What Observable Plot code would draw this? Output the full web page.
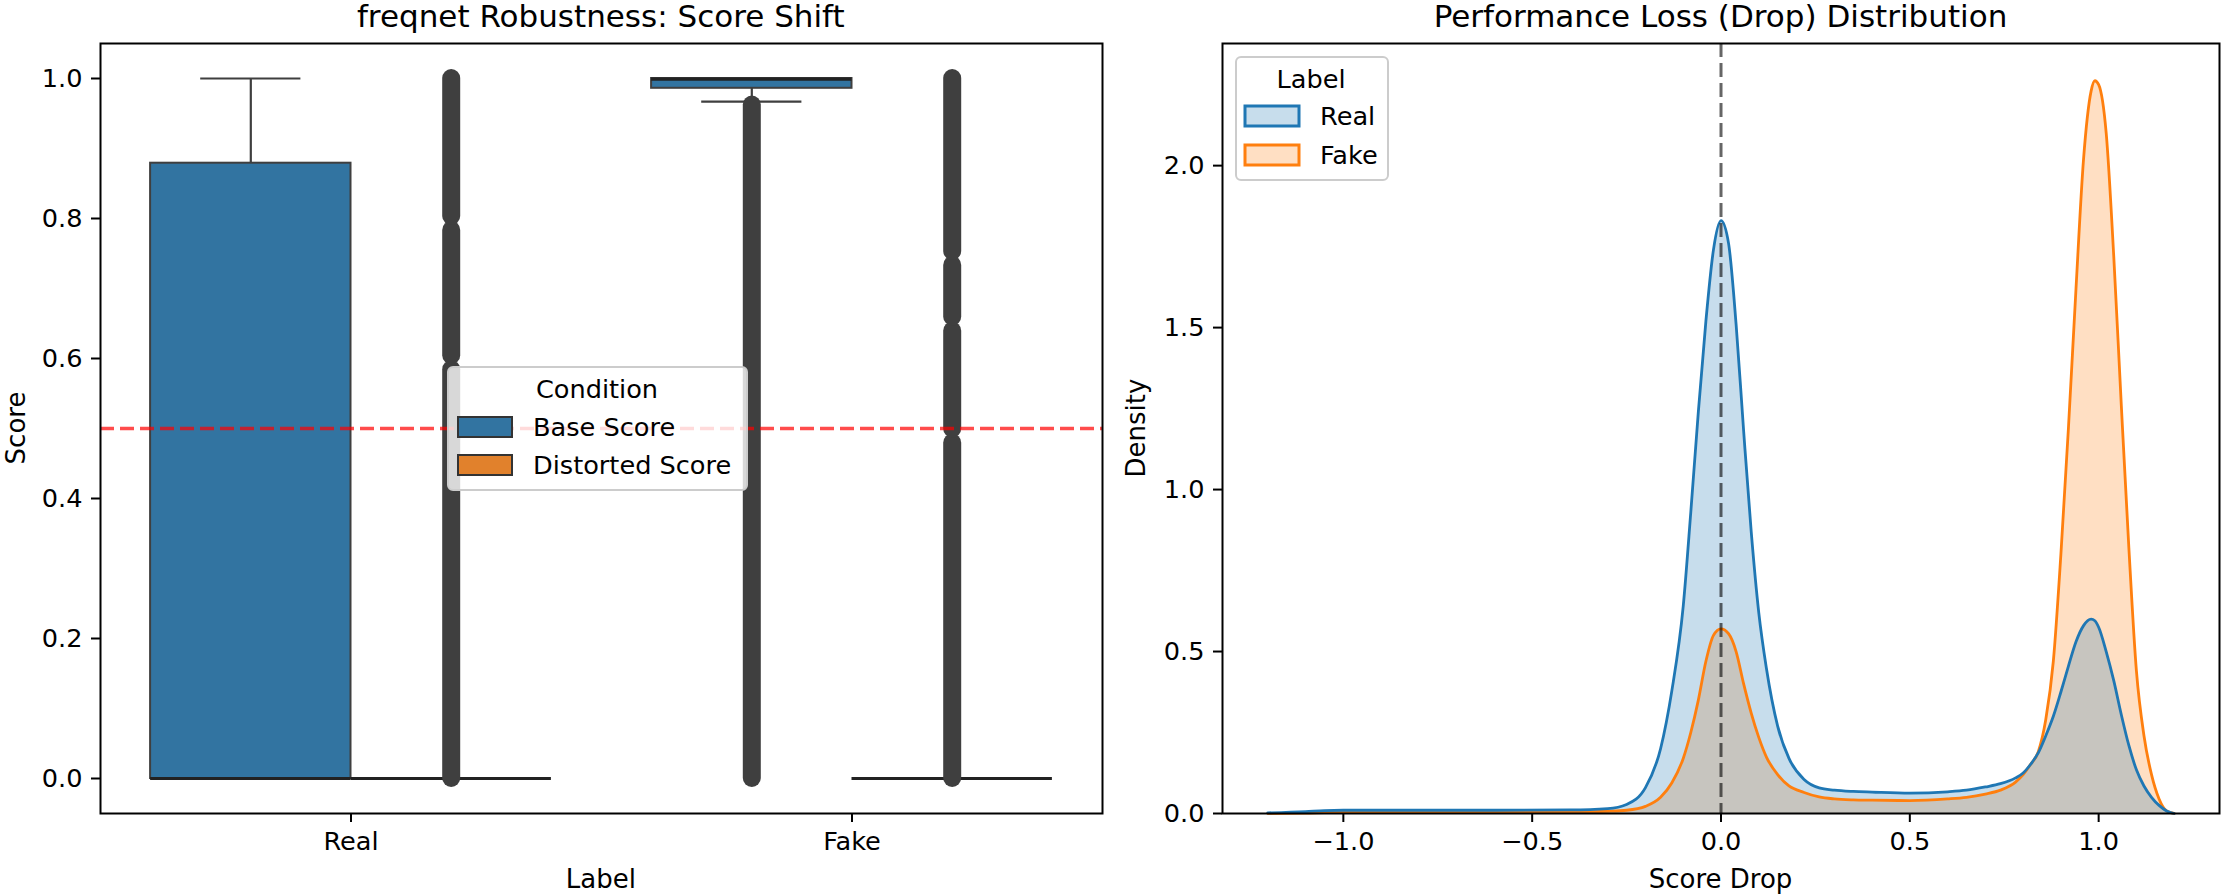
<!DOCTYPE html>
<html><head><meta charset="utf-8">
<script src="https://cdn.jsdelivr.net/npm/d3@7"></script>
<script src="https://cdn.jsdelivr.net/npm/@observablehq/plot@0.6"></script>
<style>
html,body{margin:0;padding:0;background:#fff;}
#wrap{display:flex;width:2223px;height:896px;}
svg{display:block;}
</style></head><body><div id="wrap"></div>
<script>
// ---------- Left panel data (box plot statistics) ----------
const categories = ["Real", "Fake"];
const conditions = ["Base Score", "Distorted Score"];
const conditionColors = ["#3274a1", "#e1812c"];

const baseQ1 = [0.0, 0.986];
const baseMedian = [0.0, 0.999];
const baseQ3 = [0.879, 1.0];
const baseWhiskerLow = [0.0, 0.967];
const baseWhiskerHigh = [1.0, 1.0];
const baseOutlierRuns = [[], [[0.0, 0.962]]];

const distortedQ1 = [0.0, 0.0];
const distortedMedian = [0.0, 0.0];
const distortedQ3 = [0.0, 0.0];
const distortedWhiskerLow = [0.0, 0.0];
const distortedWhiskerHigh = [0.0, 0.0];
const distortedOutlierRuns = [
  [[0.0, 0.584], [0.604, 0.783], [0.803, 1.0]],
  [[0.0, 0.479], [0.499, 0.639], [0.659, 0.733], [0.753, 1.0]]
];
const thresholdLine = [0.5];
const scoreTicks = [0, 0.2, 0.4, 0.6, 0.8, 1.0];

// ---------- Right panel data (KDE curves) ----------
const kdeLabels = ["Real", "Fake"];
const kdeColors = ["#1f77b4", "#ff7f0e"];
const scoreDrop = [-1.2, -1.1, -1.05, -1.0, -0.8, -0.6, -0.4, -0.3, -0.25, -0.2, -0.16, -0.13, -0.1, -0.08, -0.06, -0.04, -0.02, 0, 0.02, 0.04, 0.06, 0.08, 0.1, 0.12, 0.15, 0.18, 0.22, 0.26, 0.3, 0.35, 0.4, 0.5, 0.6, 0.65, 0.7, 0.74, 0.78, 0.8, 0.82, 0.84, 0.86, 0.88, 0.9, 0.92, 0.94, 0.96, 0.98, 0.99, 1.0, 1.02, 1.04, 1.06, 1.08, 1.1, 1.12, 1.14, 1.16, 1.18, 1.2];
const realDensity = [0.002, 0.006, 0.009, 0.010, 0.010, 0.010, 0.011, 0.015, 0.028, 0.08, 0.20, 0.38, 0.64, 0.93, 1.24, 1.52, 1.74, 1.83, 1.76, 1.51, 1.18, 0.87, 0.62, 0.45, 0.27, 0.17, 0.105, 0.079, 0.072, 0.068, 0.066, 0.063, 0.067, 0.072, 0.082, 0.092, 0.110, 0.125, 0.152, 0.187, 0.24, 0.30, 0.375, 0.455, 0.53, 0.58, 0.60, 0.595, 0.575, 0.50, 0.41, 0.305, 0.21, 0.135, 0.085, 0.05, 0.025, 0.008, 0.0];
const fakeDensity = [0.0, 0.001, 0.003, 0.004, 0.004, 0.004, 0.005, 0.007, 0.010, 0.022, 0.05, 0.095, 0.17, 0.25, 0.35, 0.47, 0.55, 0.57, 0.555, 0.50, 0.40, 0.31, 0.235, 0.175, 0.12, 0.085, 0.065, 0.051, 0.045, 0.042, 0.041, 0.040, 0.045, 0.05, 0.06, 0.072, 0.097, 0.12, 0.152, 0.19, 0.29, 0.47, 0.80, 1.19, 1.62, 2.02, 2.23, 2.262, 2.25, 2.10, 1.72, 1.26, 0.82, 0.44, 0.24, 0.12, 0.045, 0.008, 0.0];
const dropTicks = [-1.0, -0.5, 0.0, 0.5, 1.0];
const densityTicks = [0, 0.5, 1.0, 1.5, 2.0];
const referenceDrop = [0];

// ---------- Build tables ----------
const stats = [
  {q1: baseQ1, med: baseMedian, q3: baseQ3, lo: baseWhiskerLow, hi: baseWhiskerHigh, runs: baseOutlierRuns},
  {q1: distortedQ1, med: distortedMedian, q3: distortedQ3, lo: distortedWhiskerLow, hi: distortedWhiskerHigh, runs: distortedOutlierRuns}
];
const boxRows = [];
categories.forEach((cat, i) => conditions.forEach((cond, j) => {
  const s = stats[j];
  boxRows.push({cat, cond, pos: i + (j === 0 ? -0.2 : 0.2),
    q1: s.q1[i], med: s.med[i], q3: s.q3[i], lo: s.lo[i], hi: s.hi[i],
    runs: s.runs[i], color: conditionColors[j]});
}));
const outlierRows = boxRows.flatMap(d => d.runs.map(([a, b]) => ({pos: d.pos, a, b})));
const kdeRows = kdeLabels.map((label, k) => scoreDrop.map((x, n) => ({label, x, d: (k === 0 ? realDensity : fakeDensity)[n]})));

const FONT = "'DejaVu Sans', sans-serif";
const baseStyle = {fontFamily: FONT, fontSize: "25.6px", background: "white", color: "black", overflow: "visible"};
const lineCol = "#3f3f3f";
const fmt1 = d3.format(".1f");

// ---------- Left plot ----------
const svgL = Plot.plot({
  width: 1111, height: 896,
  marginLeft: 100, marginRight: 9, marginTop: 43, marginBottom: 83,
  x: {domain: [-0.5, 1.5]},
  y: {domain: [-0.05, 1.05]},
  color: {type: "identity"},
  style: baseStyle,
  marks: [
    Plot.rect(boxRows.filter(d => d.q3 > d.q1), {x1: d => d.pos - 0.2, x2: d => d.pos + 0.2, y1: "q1", y2: "q3", fill: "color", stroke: lineCol, strokeWidth: 2}),
    Plot.ruleX(boxRows.filter(d => d.hi > d.q3), {x: "pos", y1: "q3", y2: "hi", stroke: lineCol, strokeWidth: 2.2}),
    Plot.ruleX(boxRows.filter(d => d.lo < d.q1), {x: "pos", y1: "lo", y2: "q1", stroke: lineCol, strokeWidth: 2.2}),
    Plot.ruleY(boxRows.filter(d => d.hi > d.q3), {y: "hi", x1: d => d.pos - 0.1, x2: d => d.pos + 0.1, stroke: lineCol, strokeWidth: 2.2}),
    Plot.ruleY(boxRows.filter(d => d.lo < d.q1), {y: "lo", x1: d => d.pos - 0.1, x2: d => d.pos + 0.1, stroke: lineCol, strokeWidth: 2.2}),
    Plot.ruleY(boxRows, {y: "med", x1: d => d.pos - 0.2, x2: d => d.pos + 0.2, stroke: "#222", strokeWidth: 3.2}),
    Plot.ruleX(outlierRows, {x: "pos", y1: "a", y2: "b", stroke: lineCol, strokeWidth: 18, strokeLinecap: "round"}),
    Plot.ruleY(thresholdLine, {stroke: "red", strokeOpacity: 0.7, strokeWidth: 3.6, strokeDasharray: "14,6"}),
    Plot.axisX({ticks: [0, 1], tickFormat: i => categories[i], tickSize: 9, tickPadding: 9, strokeWidth: 2, label: null}),
    Plot.axisY({ticks: scoreTicks, tickFormat: fmt1, tickSize: 9, tickPadding: 9, strokeWidth: 2, label: null}),
    Plot.frame({stroke: "black", strokeWidth: 2})
  ]
});

// ---------- Right plot ----------
const svgR = Plot.plot({
  width: 1112, height: 896,
  marginLeft: 111, marginRight: 4, marginTop: 43, marginBottom: 83,
  x: {domain: [-1.32, 1.32]},
  y: {domain: [0, 2.377]},
  style: baseStyle,
  marks: [
    Plot.areaY(kdeRows[1], {x: "x", y: "d", fill: kdeColors[1], fillOpacity: 0.25, curve: "monotone-x"}),
    Plot.areaY(kdeRows[0], {x: "x", y: "d", fill: kdeColors[0], fillOpacity: 0.25, curve: "monotone-x"}),
    Plot.lineY(kdeRows[1], {x: "x", y: "d", stroke: kdeColors[1], strokeWidth: 2.8, curve: "monotone-x"}),
    Plot.lineY(kdeRows[0], {x: "x", y: "d", stroke: kdeColors[0], strokeWidth: 2.8, curve: "monotone-x"}),
    Plot.ruleX(referenceDrop, {stroke: "black", strokeOpacity: 0.6, strokeWidth: 3, strokeDasharray: "14,6"}),
    Plot.axisX({ticks: dropTicks, tickFormat: fmt1, tickSize: 9, tickPadding: 9, strokeWidth: 2, label: null}),
    Plot.axisY({ticks: densityTicks, tickFormat: fmt1, tickSize: 9, tickPadding: 9, strokeWidth: 2, label: null}),
    Plot.frame({stroke: "black", strokeWidth: 2})
  ]
});

const wrap = document.getElementById("wrap");
wrap.appendChild(svgL);
wrap.appendChild(svgR);

// ---------- Titles, axis labels, legends ----------
function addText(svg, txt, x, y, size, opts = {}) {
  const t = d3.select(svg).append("text")
    .attr("x", x).attr("y", y)
    .attr("text-anchor", opts.anchor || "middle")
    .attr("font-family", FONT).attr("font-size", size).attr("fill", "black")
    .text(txt);
  if (opts.rotate) t.attr("transform", `rotate(-90 ${x} ${y})`);
  return t;
}
addText(svgL, "freqnet Robustness: Score Shift", 600.8, 27, 31);
addText(svgL, "Label", 600.8, 888, 26);
addText(svgL, "Score", 25, 428, 26, {rotate: true});
addText(svgR, "Performance Loss (Drop) Distribution", 609.5, 27, 31);
addText(svgR, "Score Drop", 609.5, 888, 26);
addText(svgR, "Density", 34, 428, 26, {rotate: true});

function addLegend(svg, box, title, titleX, titleY, items) {
  const g = d3.select(svg).append("g");
  g.append("rect").attr("x", box[0]).attr("y", box[1]).attr("width", box[2]).attr("height", box[3])
    .attr("rx", 5).attr("fill", "white").attr("fill-opacity", 0.8)
    .attr("stroke", "#cccccc").attr("stroke-width", 2);
  g.append("text").attr("x", titleX).attr("y", titleY).attr("text-anchor", "middle")
    .attr("font-family", FONT).attr("font-size", 25.6).attr("fill", "black").text(title);
  items.forEach(it => {
    g.append("rect").attr("x", it.px).attr("y", it.py).attr("width", 54).attr("height", 20)
      .attr("fill", it.fill).attr("stroke", it.stroke).attr("stroke-width", it.sw);
    g.append("text").attr("x", it.tx).attr("y", it.py + 19).attr("text-anchor", "start")
      .attr("font-family", FONT).attr("font-size", 25.6).attr("fill", "black").text(it.label);
  });
}
addLegend(svgL, [448, 367, 299, 123], "Condition", 597, 398, conditions.map((c, j) => ({
  label: c, px: 458, py: j === 0 ? 417 : 455, tx: 533,
  fill: conditionColors[j], stroke: "#333", sw: 2
})));
addLegend(svgR, [125, 57, 152, 123], "Label", 200, 88, kdeLabels.map((c, k) => ({
  label: c, px: 134, py: k === 0 ? 106 : 145, tx: 209,
  fill: d3.interpolateRgb("white", kdeColors[k])(0.25), stroke: kdeColors[k], sw: 3
})));
</script>
</body></html>
